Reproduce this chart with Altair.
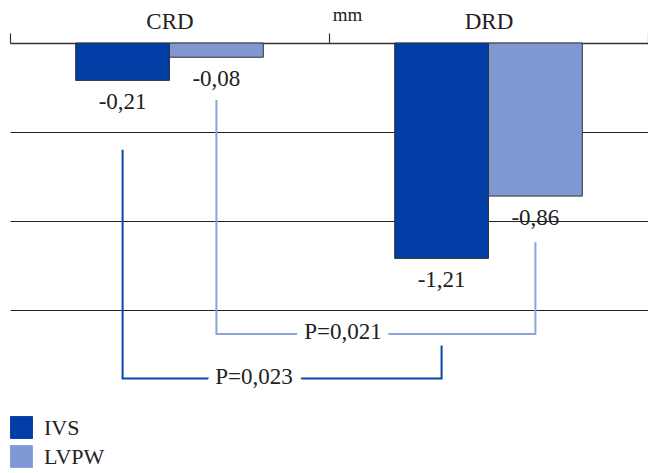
import altair as alt
import pandas as pd

# ---- data ----
groups = ["CRD", "CRD", "DRD", "DRD"]
series = ["IVS", "LVPW", "IVS", "LVPW"]
values = [-0.21, -0.08, -1.21, -0.86]
value_labels = ["-0,21", "-0,08", "-1,21", "-0,86"]

bracket_ids = ["LVPW"] * 4 + ["IVS"] * 4
bracket_order = [1, 2, 3, 4, 1, 2, 3, 4]
bracket_groups = ["CRD", "CRD", "DRD", "DRD", "CRD", "CRD", "DRD", "DRD"]
bracket_series = ["LVPW"] * 4 + ["IVS"] * 4
bracket_values = [-0.32, -1.635, -1.635, -1.12, -0.60, -1.885, -1.885, -1.70]

p_labels = ["P=0,021", "P=0,023"]
p_groups = ["DRD", "CRD"]
p_values = [-1.635, -1.885]

categories = ["CRD", "DRD"]
series_names = ["IVS", "LVPW"]
bar_colors = ["#003DA5", "#7F97D3"]
bracket_colors = ["#0B44AA", "#8AA4DD"]

FONT = "Liberation Serif"

bars_df = pd.DataFrame({"group": groups, "series": series, "value": values, "label": value_labels})
br_df = pd.DataFrame({"bracket": bracket_ids, "order": bracket_order, "group": bracket_groups,
                      "series": bracket_series, "value": bracket_values})
p_df = pd.DataFrame({"label": p_labels, "group": p_groups, "value": p_values})

x_scale = alt.Scale(domain=categories, paddingInner=0, paddingOuter=0)
xoff_scale = alt.Scale(domain=series_names, paddingInner=0, paddingOuter=0.7)
y_scale = alt.Scale(domain=[-2, 0], nice=False, zero=False)

x_axis = alt.Axis(orient="top", title=None, labelAngle=0, tickBand="extent", ticks=True,
                  tickSize=10, tickColor="#333333", tickWidth=1.2, domainColor="#333333",
                  domainWidth=1.5, labelFont=FONT, labelFontSize=23, labelColor="#222222",
                  labelPadding=0, grid=False)
y_axis = alt.Axis(values=[-0.5, -1.0, -1.5], labels=False, ticks=False, domain=False,
                  grid=True, gridColor="#222222", gridWidth=1.2, title="mm", titleAngle=0,
                  titleX=337, titleY=-29, titleAlign="center", titleBaseline="middle",
                  titleFont=FONT, titleFontSize=19, titleFontWeight="normal", titleColor="#222222")

base = alt.Chart(bars_df)

bars = base.mark_bar(stroke="#333333", strokeWidth=1).encode(
    x=alt.X("group:N", scale=x_scale, axis=x_axis),
    xOffset=alt.XOffset("series:N", scale=xoff_scale),
    y=alt.Y("value:Q", scale=y_scale, axis=y_axis),
    color=alt.Color("series:N", scale=alt.Scale(domain=series_names, range=bar_colors),
                    legend=alt.Legend(orient="none", legendX=0, legendY=373, title=None,
                                      symbolType="square", symbolSize=484,
                                      symbolStrokeColor="#333333", symbolStrokeWidth=1,
                                      symbolOpacity=1,
                                      labelFont=FONT, labelFontSize=22, labelColor="#222222",
                                      labelOffset=11, rowPadding=2)),
)

value_text = base.mark_text(baseline="middle", dy=22, font=FONT, fontSize=23, color="#222222").encode(
    x=alt.X("group:N", scale=x_scale),
    xOffset=alt.XOffset("series:N", scale=xoff_scale),
    y=alt.Y("value:Q", scale=y_scale),
    text="label:N",
)

lines = alt.Chart(br_df).mark_line(strokeWidth=2).encode(
    x=alt.X("group:N", scale=x_scale),
    xOffset=alt.XOffset("series:N", scale=xoff_scale),
    y=alt.Y("value:Q", scale=y_scale),
    detail="bracket:N",
    order="order:Q",
    stroke=alt.Stroke("series:N", scale=alt.Scale(domain=series_names, range=bracket_colors), legend=None),
)

p_layers = []
for lbl, band_pos in [("P=0,021", 0.044), ("P=0,023", 0.765)]:
    pc = alt.Chart(p_df).transform_filter(alt.datum.label == lbl)
    halo = pc.mark_text(baseline="middle", dy=-2, font=FONT, fontSize=23, color="white",
                        stroke="white", strokeWidth=18, strokeJoin="round").encode(
        x=alt.X("group:N", scale=x_scale, bandPosition=band_pos),
        y=alt.Y("value:Q", scale=y_scale),
        text="label:N",
    )
    txt = pc.mark_text(baseline="middle", dy=-2, font=FONT, fontSize=23, color="#222222").encode(
        x=alt.X("group:N", scale=x_scale, bandPosition=band_pos),
        y=alt.Y("value:Q", scale=y_scale),
        text="label:N",
    )
    p_layers += [halo, txt]

chart = alt.layer(bars, value_text, lines, *p_layers).properties(
    width=638, height=356,
    autosize=alt.AutoSizeParams(type="none"),
    padding={"left": 10, "top": 43, "right": 0, "bottom": 74},
).configure(background="white").configure_view(stroke=None)

chart.save("out.html", embed_options={"renderer": "svg", "actions": False})
